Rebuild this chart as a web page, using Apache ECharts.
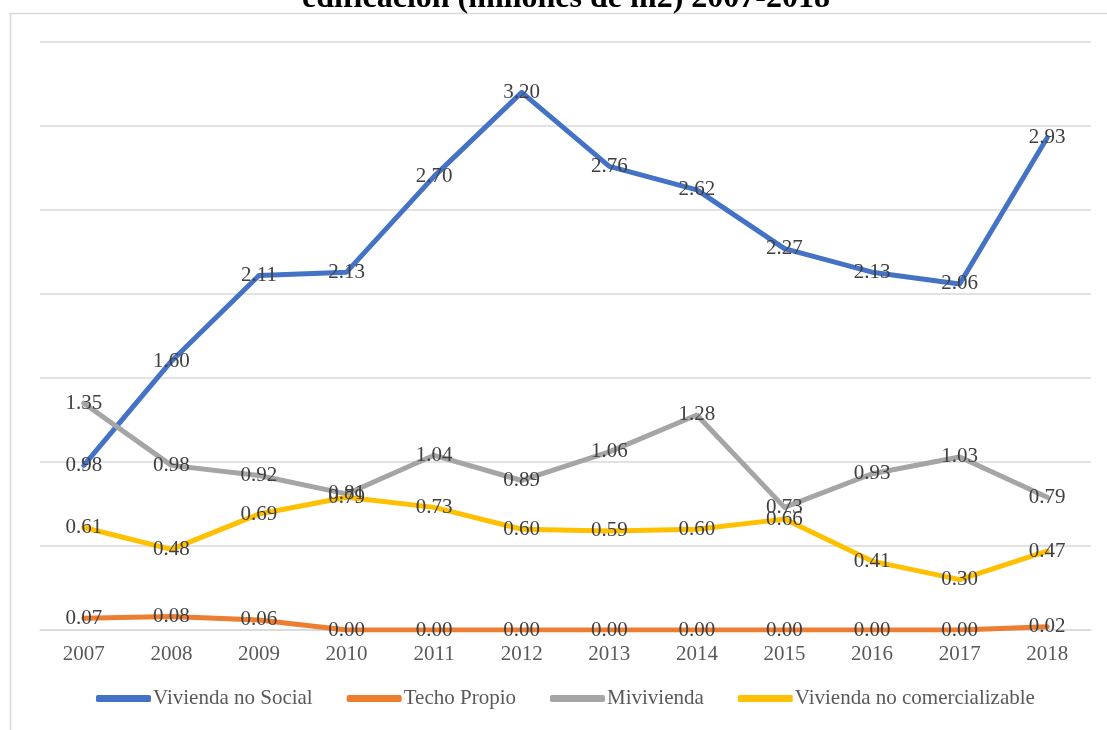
<!DOCTYPE html>
<html>
<head>
<meta charset="utf-8">
<script src="https://cdn.jsdelivr.net/npm/echarts@6/dist/echarts.min.js"></script>
<style>
  html, body { margin: 0; padding: 0; background: #fff; }
  #chart { width: 1107px; height: 730px; }
</style>
</head>
<body>
<div id="chart"></div>
<script>
// Años de la serie
const years = ['2007', '2008', '2009', '2010', '2011', '2012', '2013', '2014', '2015', '2016', '2017', '2018'];

// Superficie de edificación por tipo de vivienda (millones de m2)
const viviendaNoSocial = [0.98, 1.60, 2.11, 2.13, 2.70, 3.20, 2.76, 2.62, 2.27, 2.13, 2.06, 2.93];
const techoPropio = [0.07, 0.08, 0.06, 0.00, 0.00, 0.00, 0.00, 0.00, 0.00, 0.00, 0.00, 0.02];
const mivivienda = [1.35, 0.98, 0.92, 0.81, 1.04, 0.89, 1.06, 1.28, 0.73, 0.93, 1.03, 0.79];
const noComercializable = [0.61, 0.48, 0.69, 0.79, 0.73, 0.60, 0.59, 0.60, 0.66, 0.41, 0.30, 0.47];

const names = ['Vivienda no Social', 'Techo Propio', 'Mivivienda', 'Vivienda no comercializable'];
const colors = ['#4472C4', '#ED7D31', '#A5A5A5', '#FFC000'];

const serif = '"Liberation Serif", "Times New Roman", serif';

function lineSeries(name, data, color) {
  return {
    name: name,
    type: 'line',
    data: data,
    symbol: 'circle',
    symbolSize: 2,
    itemStyle: { color: 'rgba(0,0,0,0)', borderWidth: 0 },
    lineStyle: { color: color, width: 5, cap: 'round', join: 'round' },
    label: {
      show: true,
      position: 'inside',
      offset: [0, 2],
      formatter: p => p.value.toFixed(2),
      fontFamily: serif,
      fontSize: 21,
      color: '#404040'
    },
    labelLayout: { hideOverlap: false },
    emphasis: { disabled: true },
    animation: false
  };
}

const chart = echarts.init(document.getElementById('chart'), null, { renderer: 'canvas' });
chart.setOption({
  backgroundColor: '#ffffff',
  animation: false,
  graphic: [
    {
      type: 'rect',
      shape: { x: 10.5, y: 13.5, width: 1110, height: 730 },
      style: { fill: 'none', stroke: '#d9d9d9', lineWidth: 1.5 },
      z: -1
    },
    {
      type: 'text',
      x: 566,
      y: 15,
      style: {
        text: 'edificación (millones de m2) 2007-2018',
        font: 'bold 32px ' + serif,
        fill: '#000000',
        align: 'center',
        verticalAlign: 'bottom'
      }
    }
  ],
  legend: {
    bottom: 16,
    left: 91,
    itemWidth: 55,
    itemHeight: 7,
    itemGap: 34,
    icon: 'roundRect',
    textStyle: { fontFamily: serif, fontSize: 21, color: '#595959', padding: [0, 0, 0, -3] },
    data: names.map((n, i) => ({ name: n, itemStyle: { color: colors[i], opacity: 1 } }))
  },
  grid: { left: 40, right: 16, top: 42, bottom: 100 },
  xAxis: {
    type: 'category',
    data: years,
    boundaryGap: true,
    axisLine: { show: true, lineStyle: { color: '#d9d9d9', width: 1.5 } },
    axisTick: { show: false },
    axisLabel: { fontFamily: serif, fontSize: 21, color: '#595959', margin: 14 }
  },
  yAxis: {
    type: 'value',
    min: 0,
    max: 3.5,
    interval: 0.5,
    axisLine: { show: false },
    axisTick: { show: false },
    axisLabel: { show: false },
    splitLine: { lineStyle: { color: '#d9d9d9', width: 1.5 } }
  },
  series: [
    lineSeries(names[0], viviendaNoSocial, colors[0]),
    lineSeries(names[1], techoPropio, colors[1]),
    lineSeries(names[2], mivivienda, colors[2]),
    lineSeries(names[3], noComercializable, colors[3])
  ]
});
</script>
</body>
</html>
